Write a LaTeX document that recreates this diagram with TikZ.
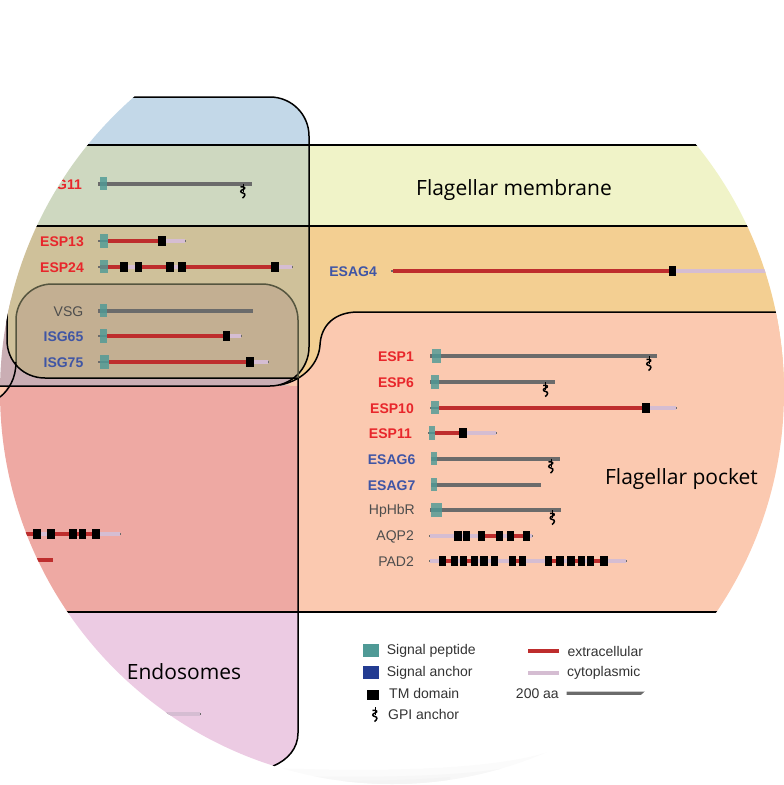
\documentclass[tikz,border=0pt]{standalone}
\usepackage{fontspec}
\setmainfont{Liberation Sans}
\newfontfamily\regionfont{Open Sans}
\usetikzlibrary{positioning, calc}

\definecolor{memblue}{HTML}{C3D8E8}
\definecolor{memgreen}{HTML}{CED8C0}
\definecolor{memyellow}{HTML}{F0F3C8}
\definecolor{lipidorange}{HTML}{F3CF92}
\definecolor{lipidolive}{HTML}{CFC19A}
\definecolor{vsgtan}{HTML}{C3AF92}
\definecolor{vesmauve}{HTML}{CAAEB4}
\definecolor{pocketpeach}{HTML}{FBC9B0}
\definecolor{lysored}{HTML}{EEA9A3}
\definecolor{endopink}{HTML}{ECCBE3}
\definecolor{sigteal}{HTML}{4F9A96}
\definecolor{anchorblue}{HTML}{233C92}
\definecolor{extrared}{HTML}{BE2D2D}
\definecolor{cytolilac}{HTML}{D5BDD2}
\definecolor{bargrey}{HTML}{6B6B6B}
\definecolor{namered}{HTML}{E8262B}
\definecolor{nameblue}{HTML}{3F55A5}
\definecolor{namegrey}{HTML}{4D4D4D}
\definecolor{edgeolive}{HTML}{55553F}

\tikzset{
  extra/.style={extrared, line width=4pt},
  cyto/.style={cytolilac, line width=4pt},
  glyco/.style={bargrey, line width=4pt},
  tipend/.style={bargrey, line width=2pt},
  sigbox/.style={fill=sigteal, opacity=0.82},
  regionline/.style={black, line width=1.5pt},
  protname/.style={anchor=east, inner sep=0pt, yshift=-1pt, font=\fontsize{14}{14}\selectfont},
  keyname/.style={anchor=west, inner sep=0pt, yshift=-1pt, text=black!80, font=\fontsize{14}{14}\selectfont},
  regionname/.style={inner sep=0pt, yshift=-1.5pt, font=\regionfont\fontsize{21}{21}\selectfont},
  gpianchor/.pic={
    \draw[black, line width=0.7pt] (0,0) -- (0,8);
    \draw[black, line width=1.5pt] (-2.5,3.5) .. controls (2,2.5) and (3,5) .. (0,6)
      .. controls (-3,7) and (-3,9) .. (0,9.5) .. controls (3,10) and (2,13) .. (-0.5,14.5);
  }
}

% tm domain: centre x, row y
\newcommand{\tmdom}[2]{\fill[black] (#1-3.7,#2-5) rectangle (#1+3.7,#2+5);}
% signal peptide: left x, right x, row y
\newcommand{\sigpep}[3]{\fill[sigbox] (#1,#3-6.7) rectangle (#2,#3+6.7);}

\begin{document}
\begin{tikzpicture}[x=1pt, y=-1pt]
  \useasboundingbox (0,0) rectangle (784,785);
  \begin{scope}
    \clip (392,392) circle (392);

    % Faint shadow along the bottom of the disc
    \fill[black!1.5] (273,768) .. controls (380,772) and (490,770) .. (548,752) -- (548,790) -- (273,790) -- cycle;
    \fill[black!3] (290,776) .. controls (380,778) and (460,776) .. (505,768) -- (505,790) -- (290,790) -- cycle;
    \fill[black!4.5] (320,781) .. controls (370,781) and (420,780) .. (450,777) -- (450,790) -- (320,790) -- cycle;

    % Background regions
    \fill[memyellow] (300,145) rectangle (784,226);
    \fill[lipidorange] (280,226) rectangle (784,386);
    \fill[vesmauve] (0,300) rectangle (290,386);
    \fill[pocketpeach] (784,312) -- (358,312) .. controls (335,312) and (321,325) .. (320,345)
      .. controls (319,362) and (305,380) .. (280,385) -- (298,386) -- (298,612) -- (784,612) -- cycle;
    \fill[lysored] (0,386) rectangle (298,612);
    \fill[pocketpeach] (0,386) -- (7,386) .. controls (5,391) and (3,394) .. (0,397) -- cycle;
    \fill[endopink] (0,612) -- (298,612) -- (298,733) .. controls (298,748) and (288,760) .. (273,766) -- (0,766) -- cycle;

    % Tall compartment over the membrane bands
    \fill[memblue] (0,97) -- (270,97) arc[start angle=-90, end angle=0, radius=39] -- (309,145) -- (0,145) -- cycle;
    \fill[memgreen] (0,145) rectangle (309,226);
    \fill[lipidolive] (7,226) -- (7,340) .. controls (7,362) and (24,378) .. (45,378) -- (297,378)
      .. controls (305,368) and (309,358) .. (309,347) -- (309,226) -- cycle;

    % Rounded surface coat
    \fill[vsgtan] (16,365) .. controls (22,372) and (32,378) .. (45,378) -- (298,378) -- (298,320)
      arc[start angle=0, end angle=-90, radius=36] -- (52,284) arc[start angle=-90, end angle=-180, radius=36] -- cycle;

    % Region outlines
    \draw[regionline] (0,145) -- (784,145);
    \draw[regionline] (0,226) -- (784,226);
    \draw[regionline] (0,612) -- (784,612);
    \draw[regionline] (784,312) -- (358,312) .. controls (335,312) and (321,325) .. (320,345)
      .. controls (319,362) and (305,380) .. (280,385);
    \draw[regionline] (0,97) -- (270,97) arc[start angle=-90, end angle=0, radius=39] -- (309,347)
      arc[start angle=0, end angle=90, radius=39] -- (0,386);
    \draw[regionline] (7,300) -- (7,340) .. controls (7,362) and (24,378) .. (45,378) -- (298,378);
    \draw[regionline] (298,378) -- (298,733) .. controls (298,748) and (288,760) .. (273,766);
    \draw[edgeolive, line width=1.5pt] (298,378) -- (298,320) arc[start angle=0, end angle=-90, radius=36]
      -- (52,284) arc[start angle=-90, end angle=-180, radius=36] -- (16,362);
    \draw[regionline] (16,362) .. controls (16,378) and (9,390) .. (0,397);

    % Region titles
    \node[regionname] (membrane) at (514,189) {Flagellar membrane};
    \node[regionname] (pocket) at (681.5,477.5) {Flagellar pocket};
    \node[regionname] (endosomes) at (184,670) {Endosomes};

    % Protein names
    \foreach \name/\xr/\yr in {G11/82/183.5, ESP13/84/241, ESP24/84/266.5, ESP1/414/356, ESP6/414/382,
        ESP10/414/407.5, ESP11/412/433}
      \node[protname, text=namered, font=\bfseries\fontsize{14}{14}\selectfont] (lbl\name) at (\xr,\yr) {\name};
    \foreach \name/\xr/\yr in {ISG65/83.5/336, ISG75/83.5/362, ESAG4/377/271, ESAG6/415.5/458.5, ESAG7/415.5/484.5}
      \node[protname, text=nameblue, font=\bfseries\fontsize{14}{14}\selectfont] (lbl\name) at (\xr,\yr) {\name};
    \foreach \name/\xr/\yr in {VSG/83.5/310.5, HpHbR/415/510, AQP2/414/535.5, PAD2/414/561}
      \node[protname, text=namegrey] (lbl\name) at (\xr,\yr) {\name};

    % GPI-anchored proteins in grey
    \foreach \xa/\xb/\xc/\xd/\yr in {98/99.5/107/252/183.5, 98/100/106.5/253/310.5, 430/432/440.5/657/356,
        430/431/439/555/382, 431/431/437/560/458.5, 431/431/437/541/484.5, 430/431/442/561/510} {
      \draw[glyco] (\xa,\yr) -- (\xd,\yr);
      \sigpep{\xb}{\xc}{\yr}
    }
    \foreach \x/\yr in {243/183.5, 649/356, 545.7/382, 551/458.5, 552.5/510}
      \pic at (\x,\yr) {gpianchor};

    % Single pass proteins
    \foreach \xa/\xb/\xc/\xm/\xd/\yr in {98/100/108/162/185/241, 98/100/106.5/226.5/241/336, 98/100/108.5/250/268/362,
        430/431/439/646/676/407.5, 428/428.5/435/463/496/433} {
      \draw[tipend] (\xa,\yr) -- (\xd+1,\yr);
      \draw[extra] (\xc,\yr) -- (\xm,\yr);
      \draw[cyto] (\xm,\yr) -- (\xd,\yr);
      \sigpep{\xb}{\xc}{\yr}
      \tmdom{\xm}{\yr}
    }

    % ESAG4 has no signal box
    \draw[tipend] (391,271) -- (395,271);
    \draw[extra] (393,271) -- (672,271);
    \draw[cyto] (672,271) -- (784,271);
    \tmdom{672.5}{271}

    % ESP24
    \draw[tipend] (98,266.5) -- (293,266.5);
    \draw[extra] (100,266.5) -- (275,266.5);
    \draw[cyto] (128,266.5) -- (135,266.5);
    \draw[cyto] (174,266.5) -- (178,266.5);
    \draw[cyto] (275,266.5) -- (292,266.5);
    \sigpep{100}{108}{266.5}
    \foreach \x in {124,138.7,170,182,275} {
      \tmdom{\x}{266.5}
    }

    % Polytopic proteins
    \draw[tipend] (429,535.5) -- (533,535.5);
    \draw[cyto] (430,535.5) -- (532,535.5);
    \draw[extra] (481,535.5) -- (499,535.5);
    \draw[extra] (511,535.5) -- (526,535.5);
    \foreach \x in {458,466.7,481.3,499.3,510.7,526.3} {
      \tmdom{\x}{535.5}
    }

    \draw[tipend] (429,561) -- (627,561);
    \draw[cyto] (430,561) -- (626,561);
    \foreach \xa/\xb in {442.7/454.7, 463.3/474.7, 512.3/522.7, 548.3/560, 571/581.7, 590.7/604}
      \draw[extra] (\xa,561) -- (\xb,561);
    \foreach \x in {442.7,454.7,463.3,474.7,484,494.3,512.3,522.7,548.3,560,571,581.7,590.7,604} {
      \tmdom{\x}{561}
    }

    % Rows cut off by the disc edge
    \draw[tipend] (0,534) -- (121,534);
    \draw[extra] (0,534) -- (37,534);
    \draw[cyto] (37,534) -- (120,534);
    \draw[extra] (51,534) -- (96,534);
    \foreach \x in {37,51,73,82.7,96} {
      \tmdom{\x}{534}
    }
    \draw[extra] (0,559.5) -- (53,559.5);
    \draw[tipend] (0,713.5) -- (201,713.5);
    \draw[cyto] (0,713.5) -- (200,713.5);

    % Key, left column
    \fill[sigteal] (362.7,644) rectangle (378.7,657.3);
    \node[keyname] (keysignal) at (386.7,650) {Signal peptide};
    \fill[anchorblue] (362.7,666) rectangle (378.7,679.3);
    \node[keyname] (keyanchor) at (386.7,672) {Signal anchor};
    \fill[black] (367,690) rectangle (378.7,700);
    \node[keyname] (keytm) at (389,692.5) {TM domain};
    \pic at (375,707) {gpianchor};
    \node[keyname] (keygpi) at (388,713.5) {GPI anchor};

    % Key, right column
    \draw[extra] (528.3,650.7) -- (559.3,650.7);
    \node[keyname] (keyextra) at (567.3,650) {extracellular};
    \draw[cyto] (528.3,672.5) -- (559.3,672.5);
    \node[keyname] (keycyto) at (567,672) {cytoplasmic};
    \node[keyname, anchor=east] (keyscale) at (559,692.5) {200 aa};
    \fill[bargrey] (566.7,691.5) -- (645,691.5) -- (643,694.8) -- (566.7,694.8) -- cycle;
  \end{scope}
\end{tikzpicture}
\end{document}
